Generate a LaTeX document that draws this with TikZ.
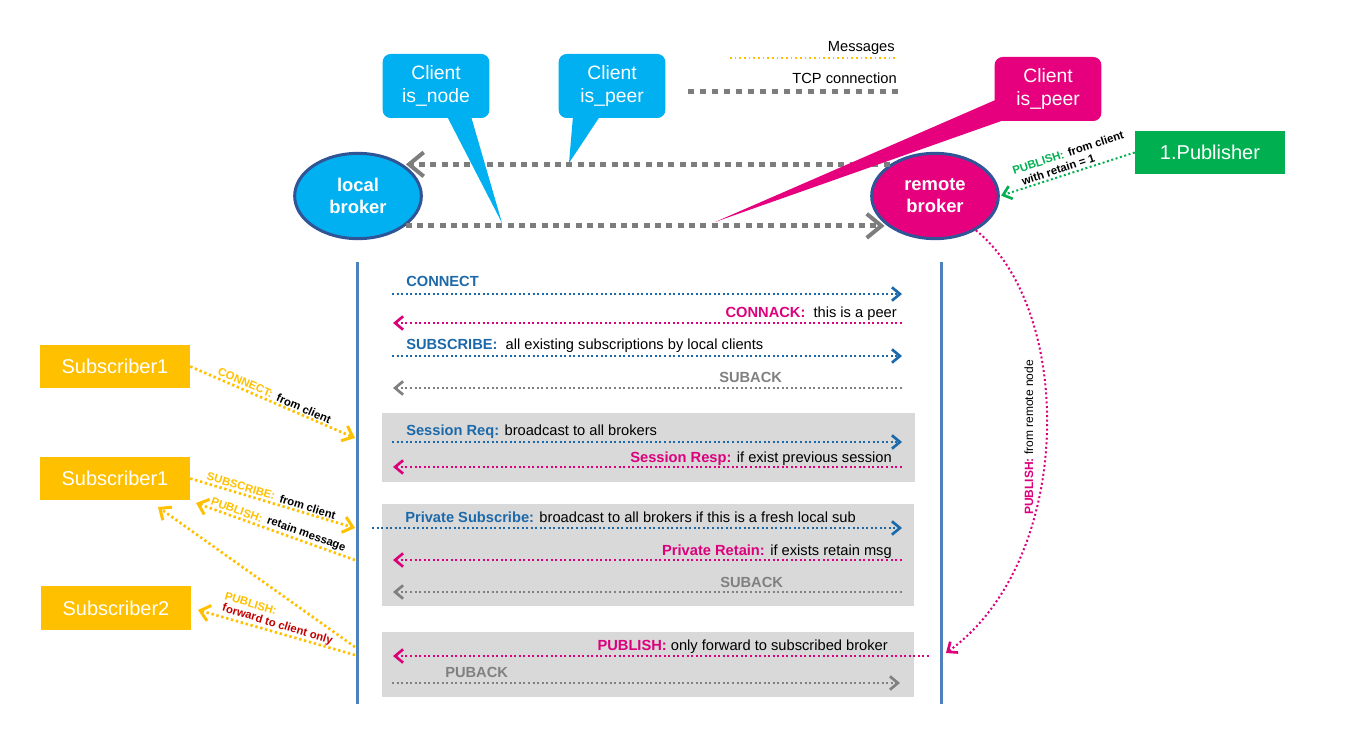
\documentclass[tikz,border=0pt]{standalone}
\usepackage{fontspec}
\setmainfont{Liberation Sans}
\usetikzlibrary{arrows.meta,shapes.geometric,calc}

\definecolor{msgblue}{RGB}{28,105,170}
\definecolor{msgpink}{RGB}{220,0,125}
\definecolor{msggrey}{RGB}{128,128,128}
\definecolor{tcpgrey}{RGB}{125,125,125}
\definecolor{subyellow}{RGB}{255,192,0}
\definecolor{pubgreen}{RGB}{0,176,80}
\definecolor{brokercyan}{RGB}{0,176,240}
\definecolor{brokerpink}{RGB}{230,0,126}
\definecolor{rimblue}{RGB}{47,85,151}
\definecolor{lifeblue}{RGB}{79,129,189}
\definecolor{boxgrey}{RGB}{217,217,217}
\definecolor{darkred}{RGB}{192,0,0}

\newcommand{\msgkey}[2]{\textbf{\textcolor{#1}{#2}}}

\tikzset{
  broker/.style={ellipse, draw=rimblue, line width=2.25pt, minimum width=95pt, minimum height=64pt, inner sep=0pt, align=center, text=white, font=\bfseries\fontsize{13.8}{16.5}\selectfont},
  callbox/.style={rectangle, rounded corners=6pt, minimum width=80pt, minimum height=48pt, align=center, text=white, font=\fontsize{14.5}{17.5}\selectfont},
  subbox/.style={rectangle, fill=subyellow, minimum width=112.5pt, minimum height=32.5pt, text=white, font=\fontsize{15}{18}\selectfont},
  msg/.style={line width=1.5pt, dash pattern=on 1.5pt off 1.9pt},
  toR/.style={-{Straight Barb[length=6pt,width=10pt,line width=2pt]}},
  toL/.style={{Straight Barb[length=6pt,width=10pt,line width=2pt]}-},
  lbl/.style={inner sep=0pt, font=\fontsize{11}{13}\selectfont},
  suby/.style={subyellow, line width=2pt, dash pattern=on 1.8pt off 2pt, -{Straight Barb[length=7pt,width=12pt,line width=2.25pt]}},
  slbl/.style={inner sep=1.5pt, text=black, font=\bfseries\fontsize{8.5}{10}\selectfont},
  skey/.style={slbl, text=#1},
  tcp/.style={tcpgrey, line width=3.75pt, dash pattern=on 4.5pt off 4pt, -{Straight Barb[length=11pt,width=18pt,line width=3pt]}},
  life/.style={lifeblue, line width=2.25pt},
}

\begin{document}
\begin{tikzpicture}[x=0.75pt,y=0.75pt,yscale=-1,xscale=1]
\useasboundingbox (0,0) rectangle (1366,738);

%Shape: grey phases
\fill[boxgrey] (382,413) rectangle (915,482);
\fill[boxgrey] (382,504) rectangle (914,606);
\fill[boxgrey] (382,632) rectangle (914,697);

%Straight Lines: lifelines
\coordinate (lifeLtop) at (357,262);
\coordinate (lifeLbot) at (357,704);
\coordinate (lifeRtop) at (941,262);
\coordinate (lifeRbot) at (941,704);
\draw[life] (lifeLtop) -- (lifeLbot);
\draw[life] (lifeRtop) -- (lifeRbot);

%Straight Lines: messages between brokers
\foreach \i/\xa/\xb/\yy/\col/\tip in {1/392/902/294/msgblue/toR, 2/393/903/323/msgpink/toL,
    3/392/902/356/msgblue/toR, 4/393/903/388/msggrey/toL, 5/392/902/442/msgblue/toR,
    6/393/903/467/msgpink/toL, 7/372/902/528/msgblue/toR, 8/393/903/560/msgpink/toL,
    9/393/903/592/msggrey/toL, 10/393/930/656/msgpink/toL, 11/392/900/683/msggrey/toR}{
  \coordinate (mA\i) at (\xa,\yy);
  \coordinate (mB\i) at (\xb,\yy);
  \draw[msg,\col,\tip] (mA\i) -- (mB\i);
}

% Text Node
\node[lbl, anchor=base west] (tConnect) at (406,286) {\msgkey{msgblue}{CONNECT}};
% Text Node
\node[lbl, anchor=base east] (tConnack) at (897,317) {\msgkey{msgpink}{CONNACK:}\ \ this is a peer};
% Text Node
\node[lbl, anchor=base west] (tSubscribe) at (406,349) {\msgkey{msgblue}{SUBSCRIBE:}\ \ all existing subscriptions by local clients};
% Text Node
\node[lbl, anchor=base west] (tSuback) at (719,382) {\msgkey{msggrey}{SUBACK}};
% Text Node
\node[lbl, anchor=base west] (tSessReq) at (406,435) {\msgkey{msgblue}{Session Req:} broadcast to all brokers};
% Text Node
\node[lbl, anchor=base east] (tSessResp) at (892,462) {\msgkey{msgpink}{Session Resp:} if exist previous session};
% Text Node
\node[lbl, anchor=base west] (tPrivSub) at (405,522) {\msgkey{msgblue}{Private Subscribe:} broadcast to all brokers if this is a fresh local sub};
% Text Node
\node[lbl, anchor=base east] (tPrivRet) at (892,555) {\msgkey{msgpink}{Private Retain:} if exists retain msg};
% Text Node
\node[lbl, anchor=base west] (tSuback2) at (720,587) {\msgkey{msggrey}{SUBACK}};
% Text Node
\node[lbl, anchor=base east] (tPublish) at (888,650) {\msgkey{msgpink}{PUBLISH:} only forward to subscribed broker};
% Text Node
\node[lbl, anchor=base west] (tPuback) at (445,677) {\msgkey{msggrey}{PUBACK}};

%Shape: brokers
\node[broker, fill=brokercyan] (local) at (358,196) {local\\broker};
\node[broker, fill=brokerpink] (remote) at (935,196) {remote\\broker};

%Straight Lines: TCP connection
\draw[tcp, shorten >=2pt] (remote.145) -- (local.35);
\draw[tcp, shorten >=2pt] (local.-32) -- (remote.212);

%Shape: callouts
\coordinate (tipNode) at (502,223);
\coordinate (tipPeer) at (569,163);
\coordinate (tipPeerR) at (715,222);
\node[callbox, fill=brokercyan] (cNode) at (436,86) {Client\\is\_node};
\node[callbox, fill=brokercyan] (cPeer) at (612,86) {Client\\is\_peer};
\node[callbox, fill=brokerpink] (cPeerR) at (1048,89) {Client\\is\_peer};
\fill[brokercyan] ($(cNode.south)+(11,-2)$) -- (tipNode) -- ($(cNode.south)+(35,-2)$) -- cycle;
\fill[brokercyan] ($(cPeer.south)+(-39,-2)$) -- (tipPeer) -- ($(cPeer.south)+(-12,-2)$) -- cycle;
\fill[brokerpink] ($(cPeerR.west)+(1,11)$) -- (tipPeerR) -- ($(cPeerR.south west)+(9,-1)$) -- cycle;

%Shape: legend
\node[lbl, anchor=base east] (legMsg) at (895,52) {Messages};
\draw[subyellow, line width=1.5pt, dash pattern=on 1.2pt off 2.3pt] (730,58) -- (898,58);
\node[lbl, anchor=base east] (legTcp) at (897,84) {TCP connection};
\draw[tcpgrey, line width=3.75pt, dash pattern=on 4.5pt off 4.5pt] (688,92) -- (900,92);

%Shape: publisher
\node[subbox, fill=pubgreen] (pub) at (1210,152.5) {1.Publisher};
\draw[msg, pubgreen, -{Straight Barb[length=6pt,width=10pt,line width=2pt]}, shorten >=1pt] (pub.west) --
  node[slbl, rotate=17.9, anchor=south west, pos=0.84] (pubRet) {with retain = 1} (remote.east);
\node[skey=pubgreen, rotate=17.9, anchor=south west, inner ysep=0pt] (pubKey) at ($(pubRet.north west)+(-5,0)$) {PUBLISH:};
\node[slbl, rotate=17.9, anchor=south west, inner ysep=0pt] (pubFrom) at (pubKey.south east) {from client};

%Curve Lines: from remote node
\coordinate (pubTip) at (946,653);
\draw[msg, msgpink, -{Straight Barb[length=6pt,width=10pt,line width=2pt]}] (remote.-40) .. controls (1075,310) and (1075,560) .. (pubTip);
\node[rotate=90, anchor=base east, inner sep=0pt, text=msgpink, font=\bfseries\fontsize{9}{11}\selectfont] (tRemoteKey) at (1033,458) {PUBLISH:};
\node[rotate=90, anchor=base west, inner sep=0pt, font=\fontsize{9}{11}\selectfont] (tRemote) at (1033,455) {from remote node};

%Shape: subscribers
\node[subbox] (sub1) at (115,366.5) {Subscriber1};
\node[subbox] (sub1b) at (115,478.5) {Subscriber1};
\node[subbox] (sub2) at (116,608) {Subscriber2};

%Straight Lines: client messages
\coordinate (inCon) at (355,438);
\coordinate (inSub) at (355,528);
\coordinate (outRet) at (355,560);
\coordinate (outFwd1) at (355,647);
\coordinate (outFwd2) at (355,655);
\coordinate (retTip) at (196,503);
\coordinate (fwdTip1) at (158,507);
\coordinate (fwdTip2) at (198,610);
\draw[suby] (sub1.east) --
  node[skey=subyellow, rotate=-23.4, anchor=south east, pos=0.5] (kCon) {CONNECT:} (inCon);
\node[slbl, rotate=-23.4, anchor=south west] (tCon) at (kCon.south east) {from client};
\draw[suby] (sub1b.east) --
  node[skey=subyellow, rotate=-16.7, anchor=south east, pos=0.52] (kSub) {SUBSCRIBE:} (inSub);
\node[slbl, rotate=-16.7, anchor=south west] (tSub) at (kSub.south east) {from client};
\draw[suby] (outRet) --
  node[skey=subyellow, rotate=-19.7, anchor=south east, pos=0.58] (kRet) {PUBLISH:} (retTip);
\node[slbl, rotate=-19.7, anchor=south west] (tRet) at (kRet.south east) {retain message};
\draw[suby] (outFwd1) -- (fwdTip1);
\draw[suby] (outFwd2) --
  node[skey=darkred, rotate=-17, anchor=south west, pos=0.88] (tFwd) {forward to client only} (fwdTip2);
\node[skey=subyellow, rotate=-17, anchor=south west, inner ysep=0pt] (kFwd) at (tFwd.north west) {PUBLISH:};

\end{tikzpicture}
\end{document}
